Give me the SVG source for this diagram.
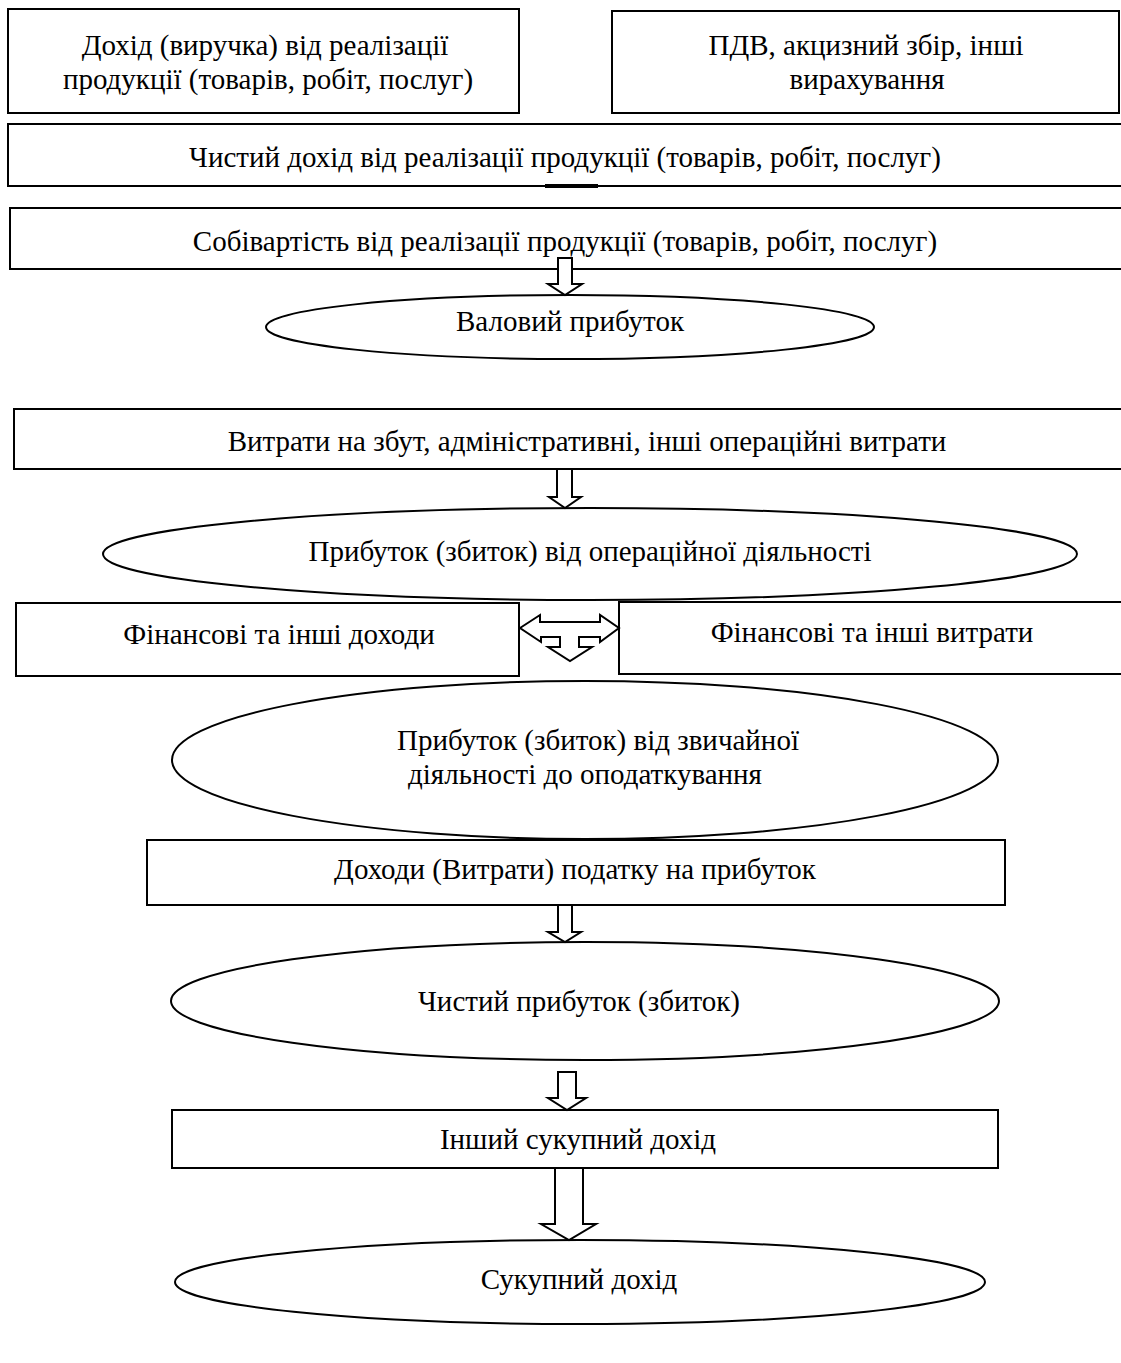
<svg xmlns="http://www.w3.org/2000/svg" width="1121" height="1363" viewBox="0 0 1121 1363">
<style>
.box{fill:#fff;stroke:#000;stroke-width:2}
.ell{fill:#fff;stroke:#000;stroke-width:2}
.arr{fill:#fff;stroke:#000;stroke-width:2;stroke-linejoin:miter}
text{font-family:"Liberation Serif","Times New Roman",serif;font-size:29px;fill:#000;text-anchor:middle}
</style>
<rect width="1121" height="1363" fill="#fff"/>
<g id="n1"><rect class="box" x="8" y="9" width="511" height="104"/><text x="265" y="55">Дохід (виручка) від реалізації</text><text x="268" y="89">продукції (товарів, робіт, послуг)</text></g>
<g id="n2"><rect class="box" x="612" y="11" width="507" height="102"/><text x="866" y="55">ПДВ, акцизний збір, інші</text><text x="867" y="89">вирахування</text></g>
<g id="n3"><rect class="box" x="8" y="124" width="1116" height="62"/><text x="565" y="167">Чистий дохід від реалізації продукції (товарів, робіт, послуг)</text></g>
<g id="n4"><rect class="box" x="10" y="208" width="1114" height="61"/><text x="565" y="251">Собівартість від реалізації продукції (товарів, робіт, послуг)</text></g>
<g id="n5"><ellipse class="ell" cx="570" cy="327" rx="304" ry="32"/><text x="570" y="331">Валовий прибуток</text></g>
<g id="n6"><rect class="box" x="14" y="409" width="1110" height="60"/><text x="587" y="451">Витрати на збут, адміністративні, інші операційні витрати</text></g>
<g id="n7"><ellipse class="ell" cx="590" cy="554" rx="487" ry="46"/><text x="590" y="561">Прибуток (збиток) від операційної діяльності</text></g>
<g id="n8"><rect class="box" x="16" y="603" width="503" height="73"/><text x="279" y="644">Фінансові та інші доходи</text></g>
<g id="n9"><rect class="box" x="619" y="602" width="505" height="72"/><text x="872" y="642">Фінансові та інші витрати</text></g>
<g id="n10"><ellipse class="ell" cx="585" cy="760" rx="413" ry="79"/><text x="598" y="750">Прибуток (збиток) від звичайної</text><text x="585" y="784">діяльності до оподаткування</text></g>
<g id="n11"><rect class="box" x="147" y="840" width="858" height="65"/><text x="575" y="879">Доходи (Витрати) податку на прибуток</text></g>
<g id="n12"><ellipse class="ell" cx="585" cy="1001" rx="414" ry="59"/><text x="579" y="1011">Чистий прибуток (збиток)</text></g>
<g id="n13"><rect class="box" x="172" y="1110" width="826" height="58"/><text x="578" y="1149">Інший сукупний дохід</text></g>
<g id="n14"><ellipse class="ell" cx="580" cy="1282" rx="405" ry="42"/><text x="579" y="1289">Сукупний дохід</text></g>
<g id="connectors">
<line x1="545" y1="186" x2="598" y2="186" stroke="#000" stroke-width="4"/>
<path class="arr" d="M558,258 H572 V284 H582 L565,295 L548,284 H558 Z"/>
<path class="arr" d="M557,469 H572 V497 H581 L565,508 L549,497 H557 Z"/>
<path class="arr" d="M520,628 L540,615 V622 H600 V615 L619,628 L600,642 V637 H579 V647 H592 L570,661 L548,647 H560 V637 H541 V642 Z"/>
<path class="arr" d="M558,905 H572 V932 H581 L565,942 L548,932 H558 Z"/>
<path class="arr" d="M558,1072 H576 V1098 H586 L567,1110 L548,1098 H558 Z"/>
<path class="arr" d="M555,1168 H583 V1224 H596 L569,1240 L541,1224 H555 Z"/>
</g>
</svg>
